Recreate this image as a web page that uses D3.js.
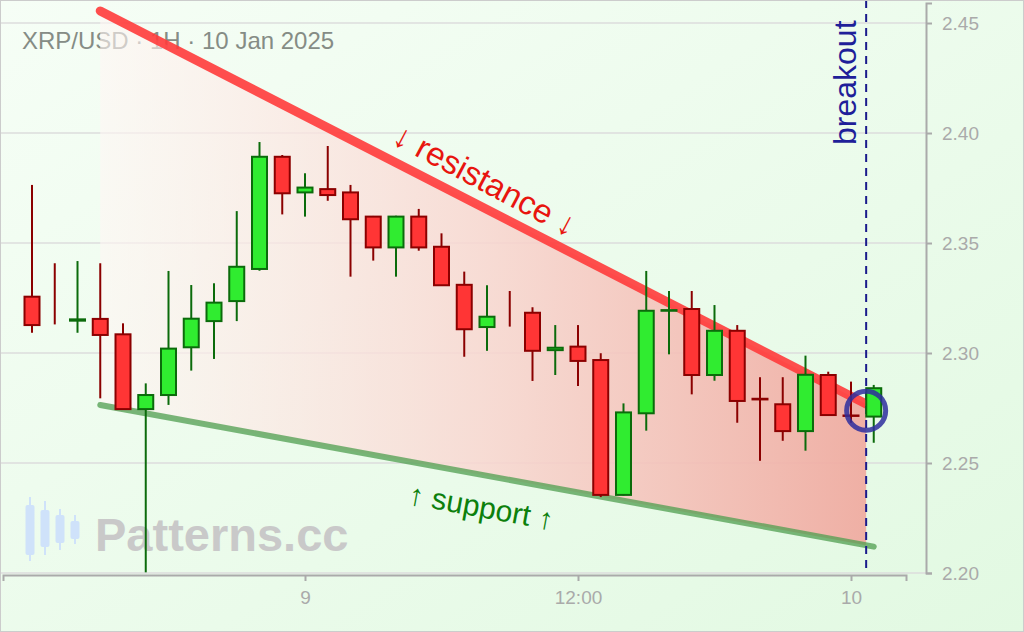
<!DOCTYPE html>
<html><head><meta charset="utf-8">
<script src="https://cdn.jsdelivr.net/npm/d3@7"></script>
<style>body{margin:0;overflow:hidden;background:#fff} svg{display:block}</style>
</head><body>
<svg id="c" width="1024" height="632"></svg>
<script>
// ---------- data ----------
const title = "XRP/USD · 1H · 10 Jan 2025";
const firstCandle = "2025-01-08T12:00:00Z"; // hourly candles
const opens  = [2.3256,2.3150,2.3147,2.3155,2.3085,2.2745,2.2809,2.3026,2.3145,2.3236,2.3382,2.3892,2.3730,2.3745,2.3730,2.3620,2.3480,2.3620,2.3483,2.3310,2.3118,2.3200,2.3183,2.3013,2.3029,2.2968,2.2355,2.2726,2.3192,2.3200,2.2900,2.3101,2.2792,2.2767,2.2645,2.2900,2.2716,2.2711];
const highs  = [2.3764,2.3408,2.3418,2.3408,2.3135,2.2862,2.3373,2.3309,2.3317,2.3645,2.3959,2.3900,2.3817,2.3941,2.3764,2.3623,2.3624,2.3655,2.3544,2.3370,2.3308,2.3282,2.3208,2.3127,2.3127,2.2999,2.2771,2.3373,2.3282,2.3282,2.3218,2.3127,2.2890,2.2890,2.2988,2.2915,2.2870,2.2855];
const lows   = [2.3092,2.3130,2.3092,2.2794,2.2741,2.2003,2.2764,2.2920,2.2973,2.3145,2.3374,2.3630,2.3620,2.3692,2.3347,2.3420,2.3347,2.3465,2.3305,2.2983,2.3010,2.3120,2.2873,2.2900,2.2850,2.2345,2.2352,2.2647,2.2994,2.2812,2.2874,2.2683,2.2510,2.2601,2.2556,2.2714,2.2683,2.2592];
const closes = [2.3127,2.3150,2.3153,2.3082,2.2745,2.2809,2.3020,2.3156,2.3229,2.3392,2.3892,2.3726,2.3752,2.3718,2.3608,2.3480,2.3620,2.3480,2.3308,2.3108,2.3165,2.3200,2.3010,2.3024,2.2964,2.2355,2.2730,2.3192,2.3195,2.2900,2.3101,2.2782,2.2789,2.2645,2.2901,2.2718,2.2714,2.2840];

const yTicks = [2.20, 2.25, 2.30, 2.35, 2.40, 2.45];
const xTickTimes  = ["2025-01-09T00:00:00Z", "2025-01-09T12:00:00Z", "2025-01-10T00:00:00Z"];
const xTickLabels = ["9", "12:00", "10"];

const resistanceTimes  = ["2025-01-08T15:00:00Z", "2025-01-10T00:40:00Z"];
const resistancePrices = [2.4555, 2.2768];
const supportTimes  = ["2025-01-08T15:00:00Z", "2025-01-10T01:00:00Z"];
const supportPrices = [2.2764, 2.2120];
const breakoutTime  = "2025-01-10T00:40:00Z";
const breakoutPrice = 2.2738;

// ---------- setup ----------
const W = 1024, H = 632;
const svg = d3.select("#c");
const defs = svg.append("defs");

const bg = defs.append("linearGradient").attr("id","bg").attr("x1",0).attr("y1",0).attr("x2",1).attr("y2",1);
bg.append("stop").attr("offset","0%").attr("stop-color","#f6fef6");
bg.append("stop").attr("offset","100%").attr("stop-color","#e2f9e2");

const x = d3.scaleUtc()
  .domain([new Date("2025-01-08T10:43:30Z"), new Date("2025-01-10T02:25:05Z")])
  .range([3, 906]);
const y = d3.scaleLinear().domain([2.20, 2.4591]).range([573, 3]);

const candles = opens.map((o,i)=>({
  t: new Date(new Date(firstCandle).getTime() + i*3600e3),
  o, h: highs[i], l: lows[i], c: closes[i]
}));

svg.append("rect").attr("width",W).attr("height",H).attr("fill","url(#bg)");

// grid
svg.append("g").selectAll("line").data(yTicks).join("line")
  .attr("x1",0).attr("x2",926)
  .attr("y1",d=>y(d)).attr("y2",d=>y(d))
  .attr("stroke","#dcdcdc").attr("stroke-width",1.5);

// watermark
const wm = svg.append("g").attr("transform","translate(24,497)");
const iconCandles = [
  {cx:6,  wt:0,  wb:64, bt:8,  bb:58},
  {cx:21, wt:4,  wb:58, bt:13, bb:50},
  {cx:36, wt:12, wb:53, bt:18, bb:46},
  {cx:51, wt:18, wb:47, bt:24, bb:42}
];
wm.selectAll("line").data(iconCandles).join("line")
  .attr("x1",d=>d.cx).attr("x2",d=>d.cx).attr("y1",d=>d.wt).attr("y2",d=>d.wb)
  .attr("stroke","#cfe2fa").attr("stroke-width",2);
wm.selectAll("rect").data(iconCandles).join("rect")
  .attr("x",d=>d.cx-4.5).attr("width",9).attr("y",d=>d.bt).attr("height",d=>d.bb-d.bt)
  .attr("rx",2).attr("fill","#cfe2fa");
svg.append("text").attr("x",95).attr("y",551)
  .attr("font-family","'Liberation Sans', Arial, sans-serif").attr("font-weight","bold")
  .attr("font-size",47).attr("fill","#c9c9c9").text("Patterns.cc");

// title
svg.append("text").attr("x",22).attr("y",49)
  .attr("font-family","'Liberation Sans', Arial, sans-serif")
  .attr("font-size",24).attr("fill","#858c85").text(title);

// wedge fill
const lerp = (times, prices, t) => {
  const t0 = new Date(times[0]).getTime(), t1 = new Date(times[1]).getTime();
  const f = (t.getTime()-t0)/(t1-t0);
  return prices[0] + f*(prices[1]-prices[0]);
};
const fg = defs.append("linearGradient").attr("id","wedge").attr("gradientUnits","userSpaceOnUse")
  .attr("x1", x(new Date(resistanceTimes[0]))).attr("x2", x(new Date(breakoutTime))).attr("y1",0).attr("y2",0);
fg.append("stop").attr("offset","0%").attr("stop-color","#fff6f4").attr("stop-opacity",0.6);
fg.append("stop").attr("offset","50%").attr("stop-color","#f9d6d0").attr("stop-opacity",0.85);
fg.append("stop").attr("offset","100%").attr("stop-color","#f0a99f").attr("stop-opacity",0.92);

const tStart = new Date(resistanceTimes[0]), tB = new Date(breakoutTime);
const poly = [
  [x(tStart), y(lerp(resistanceTimes,resistancePrices,tStart))],
  [x(tB), y(lerp(resistanceTimes,resistancePrices,tB))],
  [x(tB), y(lerp(supportTimes,supportPrices,tB))],
  [x(tStart), y(lerp(supportTimes,supportPrices,tStart))]
];
svg.append("path").attr("d", "M"+poly.join("L")+"Z").attr("fill","url(#wedge)");

// support / resistance lines
const lineGen = d3.line().x(d=>x(d[0])).y(d=>y(d[1]));
svg.append("path")
  .attr("d", lineGen(supportTimes.map((t,i)=>[new Date(t), supportPrices[i]])))
  .attr("stroke","#4f9e4f").attr("stroke-opacity",0.75).attr("stroke-width",6)
  .attr("stroke-linecap","round").attr("fill","none");
svg.append("path")
  .attr("d", lineGen(resistanceTimes.map((t,i)=>[new Date(t), resistancePrices[i]])))
  .attr("stroke","#ff3b3b").attr("stroke-opacity",0.9).attr("stroke-width",9)
  .attr("stroke-linecap","round").attr("fill","none");

// labels on lines
const font = "'Liberation Sans', Arial, sans-serif";
const rT = new Date("2025-01-09T07:47:00Z");
svg.append("text")
  .attr("transform", `translate(${x(rT)+3},${y(lerp(resistanceTimes,resistancePrices,rT))-27}) rotate(28)`)
  .attr("text-anchor","middle").attr("dy","0.35em")
  .attr("font-family",font).attr("font-size",33).attr("fill","#e8150f")
  .text("↓ resistance ↓");
const sT = new Date("2025-01-09T07:45:00Z");
svg.append("text")
  .attr("transform", `translate(${x(sT)},${y(lerp(supportTimes,supportPrices,sT))+32}) rotate(10.3)`)
  .attr("text-anchor","middle").attr("dy","0.35em")
  .attr("font-family",font).attr("font-size",30).attr("fill","#0c800c")
  .text("↑ support ↑");

// axes
const yAxis = svg.append("g").attr("transform","translate(926,0)")
  .call(d3.axisRight(y).tickValues(yTicks).tickFormat(d3.format(".2f")).tickSize(6).tickPadding(10));
const xAxis = svg.append("g").attr("transform","translate(0,575)")
  .call(d3.axisBottom(x).tickValues(xTickTimes.map(d=>new Date(d))).tickFormat((d,i)=>xTickLabels[i]).tickSize(6).tickPadding(10));
[yAxis, xAxis].forEach(g=>{
  g.selectAll("path, line").attr("stroke","#aaaaaa").attr("stroke-width",2);
  g.selectAll("text").attr("fill","#aaaaaa").attr("font-size",19);
});
yAxis.selectAll("text").attr("font-family",font);
xAxis.selectAll("text").attr("font-family","'Liberation Sans Narrow', 'Liberation Sans', Arial, sans-serif");

// breakout line
svg.append("line")
  .attr("x1",x(tB)).attr("x2",x(tB)).attr("y1",0).attr("y2",573)
  .attr("stroke","#1a1a8c").attr("stroke-width",2).attr("stroke-dasharray","8,6");
svg.append("text")
  .attr("transform",`translate(${x(tB)-10},145) rotate(-90)`)
  .attr("font-family",font).attr("font-size",32).attr("fill","#1f1f99")
  .text("breakout");

// candles
const bw = 15;
const cg = svg.append("g");
const up = d => d.c > d.o;
cg.selectAll("line").data(candles).join("line")
  .attr("x1",d=>x(d.t)).attr("x2",d=>x(d.t))
  .attr("y1",d=>y(d.h)).attr("y2",d=>y(d.l))
  .attr("stroke",d=>up(d)?"#0b6b0b":"#8b0000").attr("stroke-width",2);
cg.selectAll("rect").data(candles).join("rect")
  .attr("x",d=>x(d.t)-bw/2).attr("width",bw)
  .attr("y",d=>y(Math.max(d.o,d.c)))
  .attr("height",d=>Math.abs(y(d.o)-y(d.c)))
  .attr("fill",d=>up(d)?"#30ec30":"#ff3535")
  .attr("stroke",d=>up(d)?"#0b6b0b":"#8b0000").attr("stroke-width",2);

// breakout circle
svg.append("circle").attr("cx",x(tB)).attr("cy",y(breakoutPrice)).attr("r",19.5)
  .attr("fill","none").attr("stroke","#2e2e9e").attr("stroke-opacity",0.85).attr("stroke-width",5);

// frame
svg.append("rect").attr("x",0.5).attr("y",0.5).attr("width",W-1).attr("height",H-1)
  .attr("fill","none").attr("stroke","#cccccc");
</script>
</body></html>
